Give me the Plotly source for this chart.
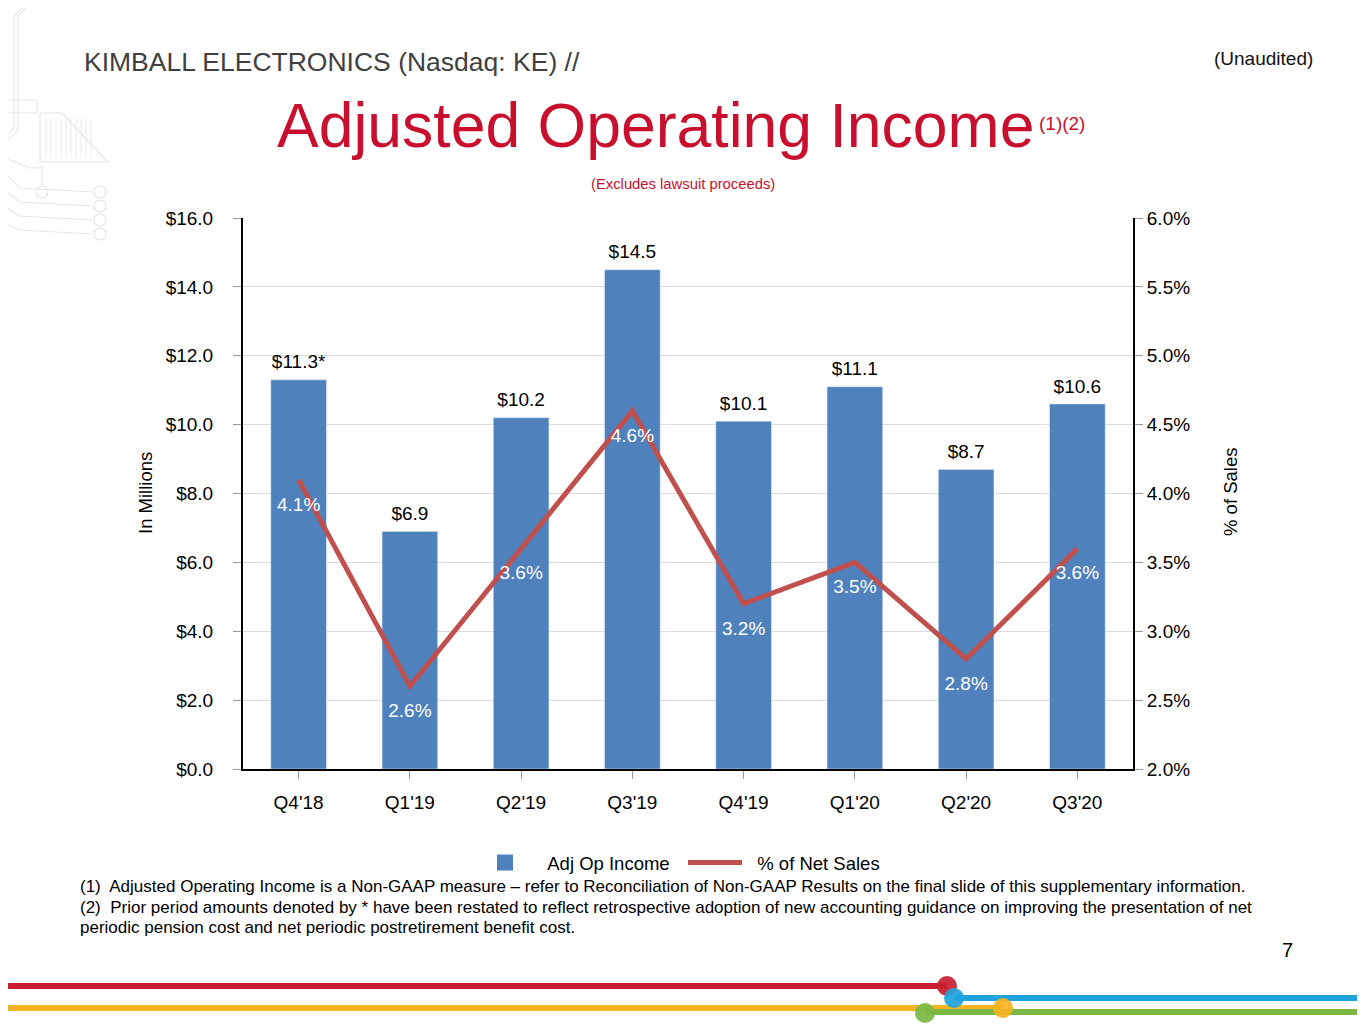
import plotly.graph_objects as go

# ---------------- Data ----------------
quarters = ["Q4'18", "Q1'19", "Q2'19", "Q3'19", "Q4'19", "Q1'20", "Q2'20", "Q3'20"]
adj_op_income = [11.3, 6.9, 10.2, 14.5, 10.1, 11.1, 8.7, 10.6]
income_labels = ["$11.3*", "$6.9", "$10.2", "$14.5", "$10.1", "$11.1", "$8.7", "$10.6"]
pct_net_sales = [4.1, 2.6, 3.6, 4.6, 3.2, 3.5, 2.8, 3.6]

FONT = "Liberation Sans, Arial, sans-serif"
BAR_BLUE = "#4f81bd"
LINE_RED = "#c0504d"
CRIMSON = "#c8102e"
PAD = "\u00a0\u00a0"  # a bit more room between legend swatch and text

# the page body has an 8px margin, so the figure is a bit smaller and
# every slide coordinate below is shifted by that amount
OFF = 8
W, H = 1365 - OFF, 1024 - OFF
# plot area in slide pixels
L, R, T, B = 243, 1133, 218, 769


def px(x):
    # slide pixel x -> paper x
    return (x - L) / (R - L)


def py(y):
    # slide pixel y -> paper y
    return (B - y) / (B - T)


fig = go.Figure()

fig.add_trace(go.Bar(
    x=quarters,
    y=adj_op_income,
    name="Adj Op Income",
    marker_color=BAR_BLUE,
    width=0.5,
    yaxis="y",
    showlegend=False,
))

# legend entry for the bars (bigger square than the default bar swatch)
fig.add_trace(go.Scatter(
    x=[None], y=[None],
    mode="markers",
    name=PAD + "Adj Op Income",
    marker=dict(symbol="square", size=16, color=BAR_BLUE),
))

fig.add_trace(go.Scatter(
    x=quarters,
    y=pct_net_sales,
    name=PAD + "% of Net Sales",
    mode="lines+markers+text",
    line=dict(color=LINE_RED, width=5),
    marker=dict(size=25, color="rgba(0,0,0,0)"),
    text=[f"{v:.1f}%" for v in pct_net_sales],
    textposition="bottom center",
    textfont=dict(color="white", size=19, family=FONT),
    yaxis="y2",
    cliponaxis=False,
))

# value labels above the bars
fig.add_trace(go.Scatter(
    x=quarters,
    y=adj_op_income,
    mode="markers+text",
    marker=dict(size=9, color="rgba(0,0,0,0)"),
    text=income_labels,
    textposition="top center",
    textfont=dict(color="black", size=19, family=FONT),
    showlegend=False,
    hoverinfo="skip",
    yaxis="y",
    cliponaxis=False,
))

annotations = [
    dict(text="KIMBALL ELECTRONICS (Nasdaq: KE) //", x=px(82), y=py(62),
         xanchor="left", yanchor="middle", font=dict(size=26.5, color="#404040")),
    dict(text="(Unaudited)", x=px(1315), y=py(59), xanchor="right", yanchor="middle",
         font=dict(size=19, color="#111111")),
    dict(text="Adjusted Operating Income", x=px(1036), y=py(125), xanchor="right",
         yanchor="middle", font=dict(size=62.5, color=CRIMSON)),
    dict(text="(1)(2)", x=px(1037), y=py(123), xanchor="left", yanchor="middle",
         font=dict(size=19, color=CRIMSON)),
    dict(text="(Excludes lawsuit proceeds)", x=px(683), y=py(184), xanchor="center",
         yanchor="middle", font=dict(size=14.8, color=CRIMSON)),
    dict(text="In Millions", x=px(145), y=py(493), textangle=-90, xanchor="center",
         yanchor="middle", font=dict(size=18.5, color="black")),
    dict(text="% of Sales", x=px(1230), y=py(492), textangle=-90, xanchor="center",
         yanchor="middle", font=dict(size=18.5, color="black")),
    dict(text="(1)  Adjusted Operating Income is a Non-GAAP measure \u2013 refer to Reconciliation of "
              "Non-GAAP Results on the final slide of this supplementary information.",
         x=px(78), y=py(886), xanchor="left", yanchor="middle",
         font=dict(size=17, color="black")),
    dict(text="(2)  Prior period amounts denoted by * have been restated to reflect retrospective "
              "adoption of new accounting guidance on improving the presentation of net",
         x=px(78), y=py(907), xanchor="left", yanchor="middle",
         font=dict(size=17, color="black")),
    dict(text="periodic pension cost and net periodic postretirement benefit cost.",
         x=px(78), y=py(927), xanchor="left", yanchor="middle",
         font=dict(size=17, color="black")),
    dict(text="7", x=px(1287), y=py(950), xanchor="center", yanchor="middle",
         font=dict(size=20, color="black")),
]
for a in annotations:
    a.update(xref="paper", yref="paper", showarrow=False)
    a["font"]["family"] = FONT

shapes = []


def hline(x0, x1, y, color, width):
    shapes.append(dict(type="line", xref="paper", yref="paper",
                       x0=px(x0), x1=px(x1), y0=py(y), y1=py(y),
                       line=dict(color=color, width=width), layer="above"))


def dot(cx, cy, r, color):
    shapes.append(dict(type="circle", xref="paper", yref="paper",
                       x0=px(cx - r), x1=px(cx + r), y0=py(cy - r), y1=py(cy + r),
                       fillcolor=color, line=dict(width=0), opacity=0.92, layer="above"))


# bottom decorative band
hline(0, 947, 986, "#c8202f", 6)
hline(954, 1362, 998, "#1fa3dc", 6)
hline(0, 1003, 1008, "#f6b221", 6)
hline(925, 1365, 1012, "#7ab843", 6)
dot(947, 986, 10, "#c8202f")
dot(954, 998, 10, "#1fa3dc")
dot(1003, 1008, 10, "#f6b221")
dot(925, 1013, 10, "#7ab843")

# faint circuit decoration, top left
GREY = "#e6e6e6"


def path(points, width=1.2):
    d = "M " + " L ".join(f"{px(x):.5f},{py(y):.5f}" for x, y in points)
    shapes.append(dict(type="path", xref="paper", yref="paper", path=d,
                       line=dict(color=GREY, width=width), layer="below"))


path([(30, 0), (14, 16), (14, 128), (0, 142)])
path([(34, 0), (18, 16), (18, 130), (2, 146)])
path([(0, 100), (37, 100), (37, 113), (0, 113)])
path([(40, 113), (62, 113), (108, 162), (40, 162), (40, 113)])
for hx in range(46, 92, 5):
    path([(hx, 118), (hx, 158)], width=0.8)
path([(42, 165), (42, 186)])
path([(0, 150), (10, 160), (30, 168), (42, 168)])
for i, cy in enumerate([192, 206, 220, 234]):
    path([(0, cy - 24 + i * 4), (20, cy - 4), (92, cy)])
    shapes.append(dict(type="circle", xref="paper", yref="paper",
                       x0=px(94), x1=px(106), y0=py(cy - 6), y1=py(cy + 6),
                       line=dict(color=GREY, width=1.2), layer="below"))
shapes.append(dict(type="circle", xref="paper", yref="paper",
                   x0=px(36), x1=px(48), y0=py(186), y1=py(198),
                   line=dict(color=GREY, width=1.2), layer="below"))

fig.update_layout(
    width=W,
    height=H,
    margin=dict(l=L - OFF, r=W - (R - OFF), t=T - OFF, b=H - (B - OFF), autoexpand=False),
    paper_bgcolor="white",
    plot_bgcolor="white",
    font=dict(family=FONT, size=19, color="black"),
    showlegend=True,
    legend=dict(orientation="h", x=px(683), xanchor="center", y=py(863), yanchor="middle",
                font=dict(size=18.5), itemwidth=54, entrywidth=141, traceorder="normal"),
    annotations=annotations,
    shapes=shapes,
    xaxis=dict(
        type="category",
        range=[-0.5, len(quarters) - 0.5],
        showline=True, linecolor="black", linewidth=2,
        ticks="outside", ticklen=8, tickcolor="#999999",
        ticklabelstandoff=7,
        tickfont=dict(size=19),
        showgrid=False,
    ),
    yaxis=dict(
        range=[0, 16], dtick=2, tickprefix="$", tickformat=".1f",
        showline=True, linecolor="black", linewidth=2,
        ticks="outside", ticklen=8, tickcolor="#999999",
        ticklabelstandoff=16,
        showgrid=True, gridcolor="#dcdcdc", gridwidth=1,
        zeroline=False,
        tickfont=dict(size=19),
    ),
    yaxis2=dict(
        range=[2, 6], dtick=0.5, ticksuffix="%", tickformat=".1f",
        overlaying="y", side="right",
        showline=True, linecolor="black", linewidth=2,
        ticks="outside", ticklen=8, tickcolor="#999999",
        showgrid=False, zeroline=False,
        tickfont=dict(size=19),
    ),
)

fig.write_html("out.html")
